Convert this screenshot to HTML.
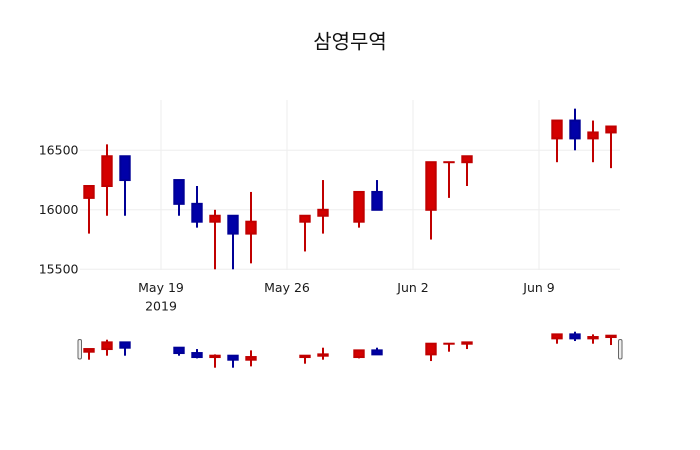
<!DOCTYPE html>
<html>
<head>
<meta charset="utf-8">
<style>
  html, body { margin:0; padding:0; background:#fff; }
  svg { display:block; }
  .tick { font-family: "DejaVu Sans", "Liberation Sans", sans-serif; font-size:12.5px; fill:#1a1a1a; }
  .title { font-family: "Liberation Sans", "Noto Sans CJK KR", sans-serif; font-size:20px; fill:#111; }
</style>
</head>
<body>
<svg width="700" height="450" viewBox="0 0 700 450" xmlns="http://www.w3.org/2000/svg">
  <rect width="700" height="450" fill="#fff"/>
  <!-- grid -->
  <g stroke="#eee" stroke-width="1">
    <line x1="80" y1="150.3" x2="620" y2="150.3"/>
    <line x1="80" y1="209.8" x2="620" y2="209.8"/>
    <line x1="80" y1="269.3" x2="620" y2="269.3"/>
    <line x1="161" y1="100" x2="161" y2="270"/>
    <line x1="287" y1="100" x2="287" y2="270"/>
    <line x1="413" y1="100" x2="413" y2="270"/>
    <line x1="539" y1="100" x2="539" y2="270"/>
  </g>
  <!-- y labels -->
  <g class="tick" text-anchor="end">
    <text x="78.5" y="154.5">16500</text>
    <text x="78.5" y="214">16000</text>
    <text x="78.5" y="273.5">15500</text>
  </g>
  <!-- x labels -->
  <g class="tick" text-anchor="middle">
    <text x="161" y="292">May 19</text>
    <text x="161" y="310.5">2019</text>
    <text x="287" y="292">May 26</text>
    <text x="413" y="292">Jun 2</text>
    <text x="539" y="292">Jun 9</text>
  </g>
  <!-- title -->
  <text class="title" x="350" y="48.5" text-anchor="middle">삼영무역</text>

  <!-- main candles -->
  <g stroke-width="2">
    <g stroke="#c00000" fill="#d40000">
      <line x1="89" y1="186.0" x2="89" y2="233.6"/>
      <rect x="84.3" y="186.0" width="9.4" height="11.9"/>
      <line x1="107" y1="144.35" x2="107" y2="215.75"/>
      <rect x="102.3" y="156.25" width="9.4" height="29.75"/>
      <line x1="215" y1="209.8" x2="215" y2="269.3"/>
      <rect x="210.3" y="215.75" width="9.4" height="5.95"/>
      <line x1="251" y1="191.95" x2="251" y2="263.35"/>
      <rect x="246.3" y="221.7" width="9.4" height="11.9"/>
      <line x1="305" y1="215.75" x2="305" y2="251.45"/>
      <rect x="300.3" y="215.75" width="9.4" height="5.95"/>
      <line x1="323" y1="180.05" x2="323" y2="233.6"/>
      <rect x="318.3" y="209.8" width="9.4" height="5.95"/>
      <line x1="359" y1="191.95" x2="359" y2="227.65"/>
      <rect x="354.3" y="191.95" width="9.4" height="29.75"/>
      <line x1="431" y1="162.2" x2="431" y2="239.55"/>
      <rect x="426.3" y="162.2" width="9.4" height="47.6"/>
      <line x1="449" y1="162.2" x2="449" y2="197.9"/>
      <rect x="444.3" y="162.2" width="9.4" height="0.01"/>
      <line x1="467" y1="156.25" x2="467" y2="186.0"/>
      <rect x="462.3" y="156.25" width="9.4" height="5.95"/>
      <line x1="557" y1="120.55" x2="557" y2="162.2"/>
      <rect x="552.3" y="120.55" width="9.4" height="17.85"/>
      <line x1="593" y1="120.55" x2="593" y2="162.2"/>
      <rect x="588.3" y="132.45" width="9.4" height="5.95"/>
      <line x1="611" y1="126.5" x2="611" y2="168.15"/>
      <rect x="606.3" y="126.5" width="9.4" height="5.95"/>
    </g>
    <g stroke="#000096" fill="#0000a8">
      <line x1="125" y1="156.25" x2="125" y2="215.75"/>
      <rect x="120.3" y="156.25" width="9.4" height="23.8"/>
      <line x1="179" y1="180.05" x2="179" y2="215.75"/>
      <rect x="174.3" y="180.05" width="9.4" height="23.8"/>
      <line x1="197" y1="186.0" x2="197" y2="227.65"/>
      <rect x="192.3" y="203.85" width="9.4" height="17.85"/>
      <line x1="233" y1="215.75" x2="233" y2="269.3"/>
      <rect x="228.3" y="215.75" width="9.4" height="17.85"/>
      <line x1="377" y1="180.05" x2="377" y2="209.8"/>
      <rect x="372.3" y="191.95" width="9.4" height="17.85"/>
      <line x1="575" y1="108.65" x2="575" y2="150.3"/>
      <rect x="570.3" y="120.55" width="9.4" height="17.85"/>
    </g>
  </g>

  <!-- range slider -->
  <g stroke-width="2">
    <g stroke="#c00000" fill="#d40000">
      <line x1="89" y1="349.04" x2="89" y2="359.7"/>
      <rect x="84.3" y="349.04" width="9.4" height="2.66"/>
      <line x1="107" y1="339.7" x2="107" y2="355.7"/>
      <rect x="102.3" y="342.37" width="9.4" height="6.67"/>
      <line x1="215" y1="354.37" x2="215" y2="367.7"/>
      <rect x="210.3" y="355.7" width="9.4" height="1.34"/>
      <line x1="251" y1="350.37" x2="251" y2="366.37"/>
      <rect x="246.3" y="357.04" width="9.4" height="2.66"/>
      <line x1="305" y1="355.7" x2="305" y2="363.7"/>
      <rect x="300.3" y="355.7" width="9.4" height="1.34"/>
      <line x1="323" y1="347.7" x2="323" y2="359.7"/>
      <rect x="318.3" y="354.37" width="9.4" height="1.33"/>
      <line x1="359" y1="350.37" x2="359" y2="358.37"/>
      <rect x="354.3" y="350.37" width="9.4" height="6.67"/>
      <line x1="431" y1="343.7" x2="431" y2="361.04"/>
      <rect x="426.3" y="343.7" width="9.4" height="10.67"/>
      <line x1="449" y1="343.7" x2="449" y2="351.7"/>
      <rect x="444.3" y="343.7" width="9.4" height="0.01"/>
      <line x1="467" y1="342.37" x2="467" y2="349.04"/>
      <rect x="462.3" y="342.37" width="9.4" height="1.33"/>
      <line x1="557" y1="334.37" x2="557" y2="343.7"/>
      <rect x="552.3" y="334.37" width="9.4" height="4.0"/>
      <line x1="593" y1="334.37" x2="593" y2="343.7"/>
      <rect x="588.3" y="337.03" width="9.4" height="1.34"/>
      <line x1="611" y1="335.7" x2="611" y2="345.03"/>
      <rect x="606.3" y="335.7" width="9.4" height="1.33"/>
    </g>
    <g stroke="#000096" fill="#0000a8">
      <line x1="125" y1="342.37" x2="125" y2="355.7"/>
      <rect x="120.3" y="342.37" width="9.4" height="5.33"/>
      <line x1="179" y1="347.7" x2="179" y2="355.7"/>
      <rect x="174.3" y="347.7" width="9.4" height="5.34"/>
      <line x1="197" y1="349.04" x2="197" y2="358.37"/>
      <rect x="192.3" y="353.04" width="9.4" height="4.0"/>
      <line x1="233" y1="355.7" x2="233" y2="367.7"/>
      <rect x="228.3" y="355.7" width="9.4" height="4.0"/>
      <line x1="377" y1="347.7" x2="377" y2="354.37"/>
      <rect x="372.3" y="350.37" width="9.4" height="4.0"/>
      <line x1="575" y1="331.7" x2="575" y2="341.03"/>
      <rect x="570.3" y="334.37" width="9.4" height="4.0"/>
    </g>
  </g>
  <!-- slider handles -->
  <rect x="78" y="339.5" width="3.5" height="19.5" rx="1.5" fill="#eee" stroke="#666" stroke-width="1"/>
  <rect x="618.5" y="339.5" width="3.5" height="19.5" rx="1.5" fill="#eee" stroke="#666" stroke-width="1"/>
</svg>
</body>
</html>
